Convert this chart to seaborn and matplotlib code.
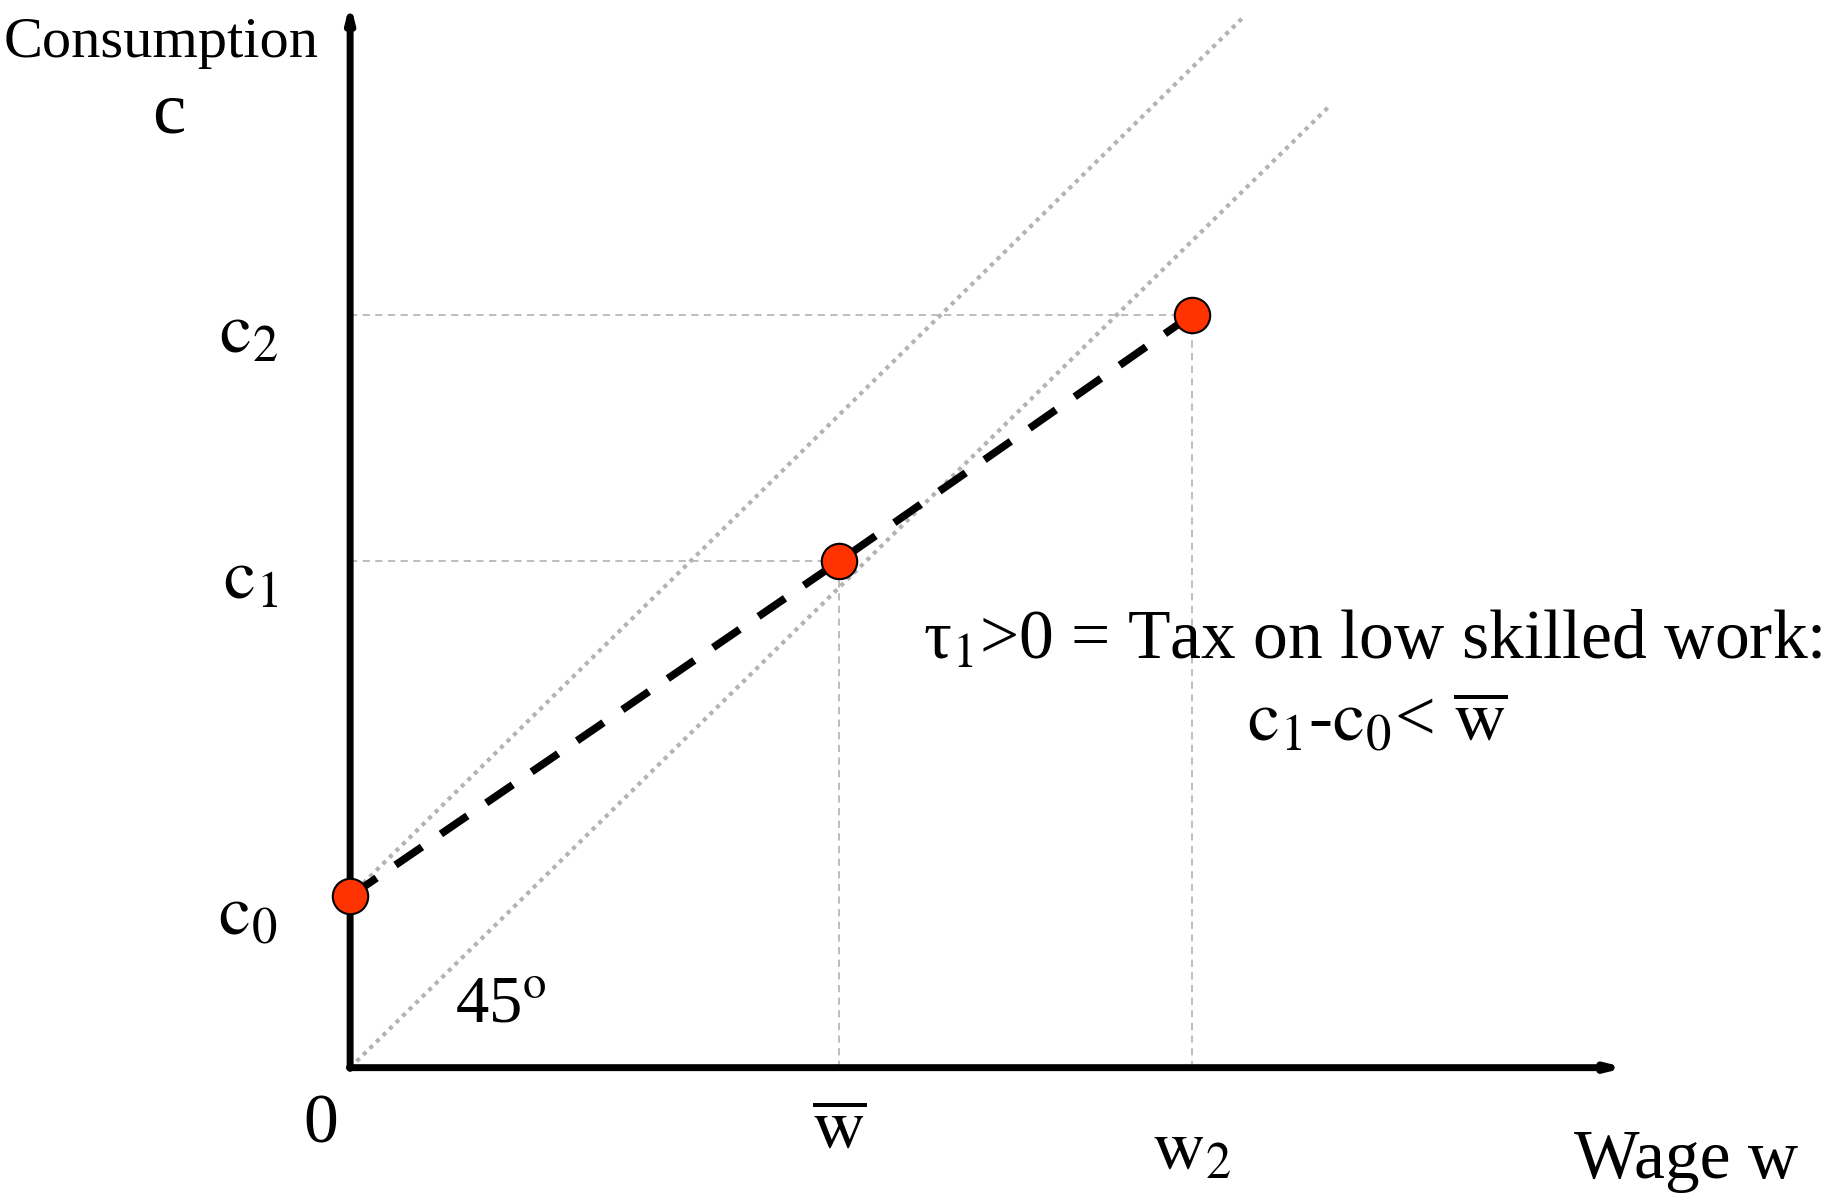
import seaborn as sns
import matplotlib.pyplot as plt
import pandas as pd

# Data (reading the picture, units ~ 100 px of the original)
wage_points = [0.0, 4.19, 7.21]
cons_points = [1.47, 4.34, 6.45]
point_names = ['c0', 'c1', 'c2']
x_axis_end = 10.95
y_axis_end = 9.15
upper_line = ([0.0, 7.65], [1.47, 9.0])    # 45 degree line through c0
lower_line = ([0.0, 8.4], [0.0, 8.25])     # 45 degree line through origin

df = pd.DataFrame({'wage': wage_points, 'cons': cons_points, 'name': point_names})

sns.set_style('white')
plt.rcParams['font.family'] = ['Liberation Serif', 'DejaVu Serif']
plt.rcParams['mathtext.fontset'] = 'stix'
plt.rcParams['text.color'] = 'black'

fig = plt.figure(figsize=(18.3, 11.96), dpi=100)
ax = fig.add_axes([0, 0, 1, 1])
ax.set_xlim(-3.0, 12.68)
ax.set_ylim(-1.10, 9.15)
ax.axis('off')

# dotted 45 degree lines
grey_dot = '#b3b3b3'
for xs, ys in (upper_line, lower_line):
    ax.plot(xs, ys, ls=(0, (1, 1.2)), color=grey_dot, lw=3)

# guide lines to c1, c2 and wbar, w2
grey_dash = '#b8b8b8'
for w, c in zip(wage_points[1:], cons_points[1:]):
    ax.plot([0, w], [c, c], ls=(0, (4, 3)), color=grey_dash, lw=1.3)
    ax.plot([w, w], [0, c], ls=(0, (4, 3)), color=grey_dash, lw=1.3)

# axes with arrows
ax.annotate('', xy=(x_axis_end, 0), xytext=(-0.03, 0),
            arrowprops=dict(arrowstyle='-|>,head_length=0.8,head_width=0.2', lw=5, color='black'))
ax.annotate('', xy=(0, y_axis_end), xytext=(0, -0.03),
            arrowprops=dict(arrowstyle='-|>,head_length=0.8,head_width=0.2', lw=5, color='black'))

# budget line and points
sns.lineplot(data=df, x='wage', y='cons', ax=ax, color='black', lw=5.5,
             dashes=False, linestyle=(0, (4.2, 3.0)), zorder=4)
sns.scatterplot(data=df, x='wage', y='cons', ax=ax, color='#ff3300', s=650,
                edgecolor='black', linewidth=1.5, zorder=5, clip_on=False)
ax.set_xlabel('')
ax.set_ylabel('')

# labels
ax.text(-1.62, 8.78, 'Consumption', fontsize=42, ha='center', va='center')
ax.text(-1.55, 8.17, 'c', fontsize=54, ha='center', va='center')
for c, name in zip(cons_points, point_names):
    ax.text(-0.62, c - 0.17, r'$\mathrm{c}_{%s}$' % name[1], fontsize=52, ha='right', va='center')

ax.text(-0.25, -0.50, '0', fontsize=50, ha='center', va='center')
ax.text(wage_points[1], -0.55, r'$\overline{\mathrm{w}}$', fontsize=52, ha='center', va='center')
ax.text(wage_points[2], -0.72, r'$\mathrm{w}_{2}$', fontsize=52, ha='center', va='center')
ax.text(11.45, -0.80, 'Wage w', fontsize=50, ha='center', va='center')
ax.text(0.9, 0.53, r'45$^{\mathrm{o}}$', fontsize=48, ha='left', va='center')

ax.text(8.76, 3.65, 'τ$_1$>0 = Tax on low skilled work:', fontsize=50, ha='center', va='center')
ax.text(8.8, 2.95, r'$\mathrm{c}_1$-$\mathrm{c}_0$< $\overline{\mathrm{w}}$', fontsize=52,
        ha='center', va='center')

fig.savefig('out.png', dpi=100)
